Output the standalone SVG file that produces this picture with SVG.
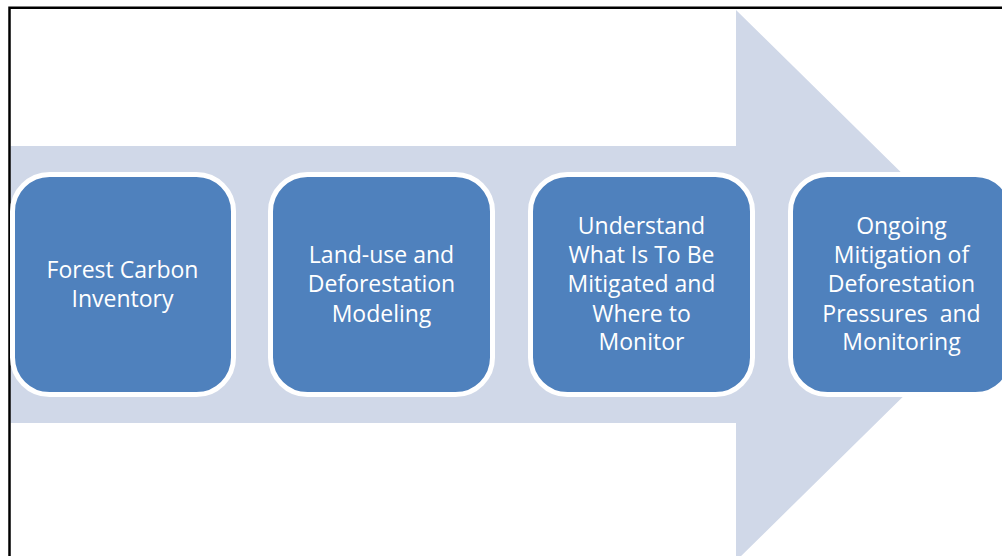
<svg xmlns="http://www.w3.org/2000/svg" width="1002" height="556" viewBox="0 0 1002 556">
  <style>
    .box { fill: #4F81BD; stroke: #FFFFFF; stroke-width: 5; }
    .lbl { fill: #FFFFFF; font-family: "Open Sans", "Liberation Sans", sans-serif; font-size: 23px; text-anchor: middle; }
  </style>
  <rect x="0" y="0" width="1002" height="556" fill="#FFFFFF"/>
  <g id="arrow">
    <polygon points="10.5,146 736,146 736,10 1016,285.5 736,561 736,423 10.5,423" fill="#D0D8E8"/>
  </g>
  <g id="frame">
    <path d="M9.5,556 V7.8 H1002" fill="none" stroke="#000000" stroke-width="2.5"/>
  </g>
  <g id="connectors"></g>
  <g id="node1">
    <rect class="box" x="12.5" y="174.5" width="221" height="220" rx="37" ry="37"/>
    <text class="lbl" x="122.5" y="278">Forest Carbon</text>
    <text class="lbl" x="122.5" y="307">Inventory</text>
  </g>
  <g id="node2">
    <rect class="box" x="270.5" y="174.5" width="222" height="220" rx="37" ry="37"/>
    <text class="lbl" x="381.5" y="263">Land-use and</text>
    <text class="lbl" x="381.5" y="292">Deforestation</text>
    <text class="lbl" x="381.5" y="321.5">Modeling</text>
  </g>
  <g id="node3">
    <rect class="box" x="530.5" y="174.5" width="222" height="220" rx="37" ry="37"/>
    <text class="lbl" x="641.5" y="234">Understand</text>
    <text class="lbl" x="641.5" y="263">What Is To Be</text>
    <text class="lbl" x="641.5" y="292">Mitigated and</text>
    <text class="lbl" x="641.5" y="321.5">Where to</text>
    <text class="lbl" x="641.5" y="350">Monitor</text>
  </g>
  <g id="node4">
    <rect class="box" x="790.5" y="174.5" width="222" height="220" rx="37" ry="37"/>
    <text class="lbl" x="901.5" y="234">Ongoing</text>
    <text class="lbl" x="901.5" y="263">Mitigation of</text>
    <text class="lbl" x="901.5" y="292">Deforestation</text>
    <text class="lbl" x="901.5" y="321.5" xml:space="preserve">Pressures  and</text>
    <text class="lbl" x="901.5" y="350">Monitoring</text>
  </g>
</svg>
